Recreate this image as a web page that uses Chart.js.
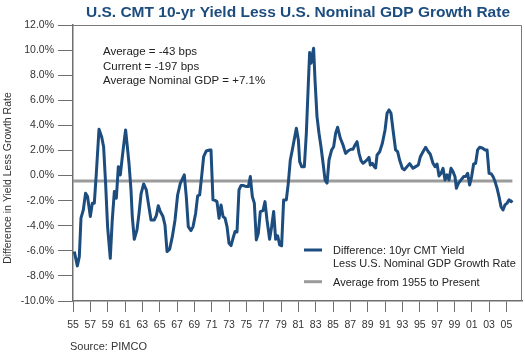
<!DOCTYPE html>
<html>
<head>
<meta charset="utf-8">
<script src="https://cdn.jsdelivr.net/npm/chart.js@4.4.1/dist/chart.umd.min.js"></script>
<style>
  html, body { margin: 0; padding: 0; background: #fff; }
  #wrap { width: 525px; height: 356px; position: relative; }
</style>
</head>
<body>
<div id="wrap"><canvas id="c" width="525" height="356"></canvas></div>
<script>
// Time points (decimal years)
const periods = [
  1955.15,1955.50,1955.73,1955.92,1956.19,1956.45,1956.68,1957.00,1957.23,1957.46,
  1957.69,1958.00,1958.30,1958.53,1958.76,1958.99,1959.30,1959.53,1959.77,1960.00,
  1960.23,1960.46,1960.69,1960.92,1961.07,1961.23,1961.46,1961.69,1961.84,1962.07,
  1962.38,1962.62,1962.85,1963.15,1963.46,1963.69,1964.00,1964.38,1964.61,1964.84,
  1965.07,1965.38,1965.61,1965.85,1966.15,1966.46,1966.77,1967.07,1967.38,1967.84,
  1968.07,1968.30,1968.61,1968.85,1969.15,1969.38,1969.61,1969.84,1970.07,1970.38,
  1970.76,1970.92,1971.15,1971.38,1971.61,1971.85,1972.08,1972.31,1972.54,1972.77,
  1973.00,1973.23,1973.46,1973.69,1973.92,1974.15,1974.38,1974.68,1975.00,1975.23,
  1975.46,1975.69,1975.92,1976.15,1976.38,1976.61,1976.92,1977.15,1977.38,1977.53,
  1977.68,1977.91,1978.15,1978.38,1978.61,1978.84,1979.07,1979.30,1979.61,1979.84,
  1980.07,1980.30,1980.53,1980.77,1981.00,1981.15,1981.38,1981.69,1981.92,1982.15,
  1982.30,1982.46,1982.61,1982.76,1982.92,1983.15,1983.38,1983.61,1983.85,1984.08,
  1984.31,1984.54,1984.84,1985.07,1985.30,1985.53,1985.84,1986.15,1986.45,1986.76,
  1987.08,1987.31,1987.54,1987.77,1988.00,1988.23,1988.46,1988.69,1988.92,1989.15,
  1989.30,1989.53,1989.76,1989.91,1990.08,1990.38,1990.69,1991.00,1991.23,1991.46,
  1991.69,1991.92,1992.22,1992.45,1992.68,1992.99,1993.23,1993.54,1993.84,1994.23,
  1994.53,1994.84,1995.07,1995.38,1995.68,1995.99,1996.22,1996.53,1996.77,1997.00,
  1997.23,1997.46,1997.69,1997.92,1998.15,1998.38,1998.61,1998.84,1999.07,1999.23,
  1999.46,1999.77,2000.07,2000.30,2000.53,2000.76,2000.99,2001.22,2001.45,2001.68,
  2001.91,2002.22,2002.54,2002.77,2003.00,2003.23,2003.46,2003.69,2003.92,2004.15,
  2004.38,2004.61,2004.84,2005.08,2005.31,2005.54,2005.69
];
// 10yr CMT yield less nominal GDP growth (%)
const spread = [
  -6.06,-7.20,-6.46,-3.40,-2.74,-1.41,-1.68,-3.27,-2.20,-2.20,
   0.18, 3.69, 3.10, 2.30,-0.60,-4.07,-6.60,-3.54,-1.28,-1.81,
   0.71, 0.05, 1.50, 2.84, 3.63, 2.57, 0.98,-1.15,-3.27,-5.08,
  -4.33,-3.00,-1.47,-0.67,-1.15,-2.20,-3.54,-3.54,-3.20,-2.40,
  -2.87,-3.27,-3.94,-6.06,-5.87,-4.87,-3.54,-1.55,-0.62, 0.05,
  -1.68,-4.07,-4.39,-4.07,-3.00,-1.62,-1.55,-0.08, 1.50, 1.96,
   2.04, 2.04,-1.94,-1.98,-2.08,-3.40,-2.34,-3.27,-3.40,-4.07,
  -5.40,-5.58,-5.00,-4.47,-4.50,-1.15,-0.80,-0.80,-0.88,-0.88,
  -0.08,-1.68,-2.20,-5.13,-4.60,-2.87,-2.80,-2.08,-3.54,-4.30,
  -5.08,-4.10,-2.87,-5.08,-4.80,-5.53,-5.60,-1.94,-1.94,-0.60,
   1.24, 2.04, 2.90, 3.77, 2.84, 1.11, 0.71, 0.71, 3.37, 7.35,
   9.80, 8.95, 9.60,10.15, 7.62, 4.70, 3.37, 2.30, 0.98,-0.35,
  -0.60, 1.24, 2.04, 2.30, 3.37, 3.85, 2.97, 2.44, 1.77, 1.98,
   2.10, 2.10, 2.44, 2.70, 1.77, 1.19, 0.98, 1.10, 1.24, 1.45,
   0.84, 0.98, 0.71, 0.60, 1.64, 1.90, 2.57, 3.63, 4.96, 5.23,
   4.96, 3.63, 2.04, 1.90, 1.24, 0.58, 0.45, 0.71, 0.95, 0.58,
   0.71, 0.84, 1.50, 1.90, 2.25, 1.90, 1.70, 0.98, 0.71, 0.92,
  -0.03, 0.18, 0.58,-0.35, 0.05,-0.35, 0.58, 0.32,-0.10,-1.01,
  -0.62,-0.35,-0.08,-0.08, 0.18,-0.75,-0.08, 0.92, 0.98, 2.04,
   2.25, 2.20, 2.04, 2.04, 0.18, 0.15,-0.08,-0.48,-1.01,-1.68,
  -2.48,-2.74,-2.34,-2.20,-1.94,-2.08,-1.97
];
const averageSpread = -0.43;
const xTickYears = [1955,1957,1959,1961,1963,1965,1967,1969,1971,1973,1975,1977,1979,
  1981,1983,1985,1987,1989,1991,1993,1995,1997,1999,2001,2003,2005];
const yTickValues = [-10,-8,-6,-4,-2,0,2,4,6,8,10,12];
const annotations = ['Average = -43 bps', 'Current = -197 bps', 'Average Nominal GDP = +7.1%'];
const legendItems = [
  { lines: ['Difference: 10yr CMT Yield', 'Less U.S. Nominal GDP Growth Rate'], color: '#1c4d7e' },
  { lines: ['Average from 1955 to Present'], color: '#9b9b9b' }
];

const NAVY = '#1c4d7e';
const FONT = '"Liberation Sans", Arial, Helvetica, sans-serif';

const overlay = {
  id: 'overlay',
  beforeDatasetsDraw(chart) {
    const { ctx, chartArea: a } = chart;
    ctx.save();
    ctx.strokeStyle = '#7a7a7a';
    ctx.lineWidth = 1;
    ctx.beginPath();
    ctx.moveTo(a.left, a.top + 0.5);
    ctx.lineTo(a.right - 0.5, a.top + 0.5);
    ctx.lineTo(a.right - 0.5, a.bottom);
    ctx.stroke();
    ctx.restore();
  },
  afterDraw(chart) {
    const { ctx } = chart;
    ctx.save();
    // Title
    ctx.fillStyle = NAVY;
    ctx.font = 'bold 15.5px ' + FONT;
    ctx.textAlign = 'center';
    ctx.textBaseline = 'alphabetic';
    ctx.fillText('U.S. CMT 10-yr Yield Less U.S. Nominal GDP Growth Rate', 298, 17);
    // Annotations
    ctx.fillStyle = '#222';
    ctx.font = '11.5px ' + FONT;
    ctx.textAlign = 'left';
    annotations.forEach((t, i) => ctx.fillText(t, 103, 55 + i * 14.5));
    // Legend
    ctx.font = '11px ' + FONT;
    let y = 250;
    legendItems.forEach((item, k) => {
      ctx.strokeStyle = item.color;
      ctx.lineWidth = 3;
      ctx.beginPath();
      ctx.moveTo(304, y);
      ctx.lineTo(322, y);
      ctx.stroke();
      ctx.fillStyle = '#222';
      item.lines.forEach((ln, j) => ctx.fillText(ln, 333, y + 4 + j * 12.7));
      y += 31.7;
    });
    // Source
    ctx.fillStyle = '#333';
    ctx.font = '11px ' + FONT;
    ctx.fillText('Source: PIMCO', 70, 350);
    // Y axis title
    ctx.translate(8, 178);
    ctx.rotate(-Math.PI / 2);
    ctx.textAlign = 'center';
    ctx.textBaseline = 'middle';
    ctx.font = '10.5px ' + FONT;
    ctx.fillStyle = '#333';
    ctx.fillText('Difference in Yield Less Growth Rate', 0, 0);
    ctx.restore();
  }
};

new Chart(document.getElementById('c'), {
  type: 'line',
  data: {
    datasets: [
      {
        label: 'Difference: 10yr CMT Yield Less U.S. Nominal GDP Growth Rate',
        data: periods.map((p, i) => ({ x: p, y: spread[i] })),
        borderColor: NAVY,
        borderWidth: 3,
        pointRadius: 0,
        tension: 0,
        borderJoinStyle: 'round',
        order: 1
      },
      {
        label: 'Average from 1955 to Present',
        data: [{ x: 1955, y: averageSpread }, { x: periods[periods.length - 1], y: averageSpread }],
        borderColor: '#9b9b9b',
        borderWidth: 3,
        pointRadius: 0,
        order: 2
      }
    ]
  },
  options: {
    responsive: false,
    animation: false,
    layout: { padding: { top: 25, right: 3, left: 0, bottom: 0 } },
    plugins: { legend: { display: false }, tooltip: { enabled: false }, title: { display: false } },
    scales: {
      x: {
        type: 'linear',
        min: 1955,
        max: 2006.8,
        afterFit(s) { s.height = 55; },
        afterBuildTicks(s) { s.ticks = xTickYears.map(v => ({ value: v })); },
        grid: { drawOnChartArea: false, drawTicks: true, tickLength: 11, color: '#6f6f6f', lineWidth: 1 },
        border: { display: true, color: '#6f6f6f', width: 1.5 },
        ticks: {
          padding: 7,
          maxRotation: 0,
          autoSkip: false,
          color: '#333',
          font: { family: FONT, size: 10.5 },
          callback: v => String(Math.round(v) % 100).padStart(2, '0')
        }
      },
      y: {
        min: -10,
        max: 12,
        afterFit(s) { s.width = 73; },
        afterBuildTicks(s) { s.ticks = yTickValues.map(v => ({ value: v })); },
        grid: { drawOnChartArea: false, drawTicks: true, tickLength: 15, color: '#6f6f6f', lineWidth: 1 },
        border: { display: true, color: '#6f6f6f', width: 1.5 },
        ticks: {
          padding: 4,
          color: '#333',
          font: { family: FONT, size: 10.5 },
          callback: v => v.toFixed(1) + '%'
        }
      }
    }
  },
  plugins: [overlay]
});
</script>
</body>
</html>
